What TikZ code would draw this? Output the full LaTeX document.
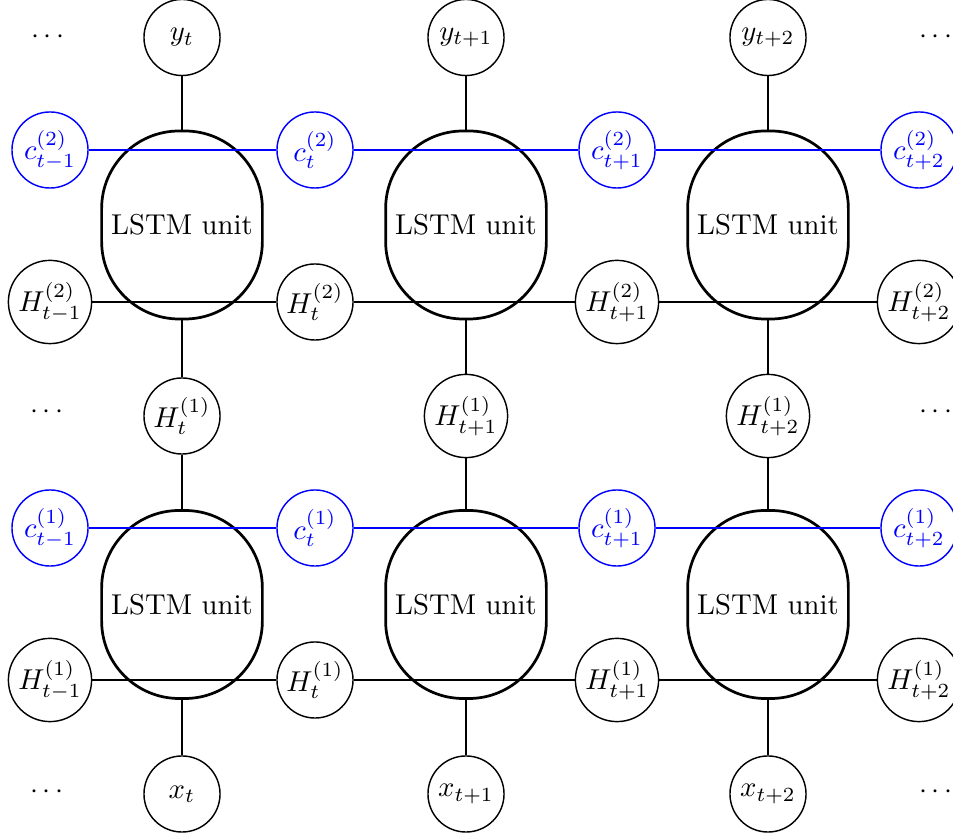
\documentclass[tikz,border=0pt]{standalone}
\begin{document}
\begin{tikzpicture}[x=0.3484pt,y=-0.3484pt,
 st/.style={circle,draw,line width=0.5pt,minimum size=26.5pt,inner sep=0pt},
 wide/.style={st,minimum size=29pt},
 cell/.style={st,draw=blue,text=blue},
 lstm/.style={draw,line width=0.95pt,rounded corners=27pt,minimum width=56pt,minimum height=65.5pt,inner sep=0pt},
 dts/.style={inner sep=0pt},
 link/.style={line width=0.5pt},
 clink/.style={link,blue}]
\useasboundingbox (0,0) rectangle (953,837);
% top outputs
\node[st] (y0) at (182,37.5) {$y_t$};
\node[st] (y1) at (466,37.5) {$y_{t+1}$};
\node[st] (y2) at (768,37.5) {$y_{t+2}$};
\node[dts] (d1) at (48,37) {$\cdots$};
\node[dts] (d2) at (936,37) {$\cdots$};
% layer 2 cell states
\node[cell] (c2a) at (50,150) {$c^{(2)}_{t-1}$};
\node[cell] (c2b) at (315,150) {$c^{(2)}_{t}$};
\node[cell] (c2c) at (617,150) {$c^{(2)}_{t+1}$};
\node[cell] (c2d) at (919,150) {$c^{(2)}_{t+2}$};
% layer 2 units
\node[lstm] (L2a) at (182,225) {LSTM unit};
\node[lstm] (L2b) at (466,225) {LSTM unit};
\node[lstm] (L2c) at (768,225) {LSTM unit};
% layer 2 hidden
\node[wide] (h2a) at (50,302) {$H^{(2)}_{t-1}$};
\node[st] (h2b) at (315,302) {$H^{(2)}_{t}$};
\node[wide] (h2c) at (617,302) {$H^{(2)}_{t+1}$};
\node[wide] (h2d) at (919,302) {$H^{(2)}_{t+2}$};
% middle
\node[st] (m0) at (182,416) {$H^{(1)}_{t}$};
\node[wide] (m1) at (466,416) {$H^{(1)}_{t+1}$};
\node[wide] (m2) at (768,416) {$H^{(1)}_{t+2}$};
\node[dts] (d3) at (47,412) {$\cdots$};
\node[dts] (d4) at (936,412) {$\cdots$};
% layer 1 cell states
\node[cell] (c1a) at (50,528) {$c^{(1)}_{t-1}$};
\node[cell] (c1b) at (315,528) {$c^{(1)}_{t}$};
\node[cell] (c1c) at (617,528) {$c^{(1)}_{t+1}$};
\node[cell] (c1d) at (919,528) {$c^{(1)}_{t+2}$};
% layer 1 units
\node[lstm] (L1a) at (182,604.5) {LSTM unit};
\node[lstm] (L1b) at (466,604.5) {LSTM unit};
\node[lstm] (L1c) at (768,604.5) {LSTM unit};
% layer 1 hidden
\node[wide] (h1a) at (50,680) {$H^{(1)}_{t-1}$};
\node[st] (h1b) at (315,680) {$H^{(1)}_{t}$};
\node[wide] (h1c) at (617,680) {$H^{(1)}_{t+1}$};
\node[wide] (h1d) at (919,680) {$H^{(1)}_{t+2}$};
% inputs
\node[st] (x0) at (182,794) {$x_t$};
\node[st] (x1) at (466,794) {$x_{t+1}$};
\node[st] (x2) at (768,794) {$x_{t+2}$};
\node[dts] (d5) at (47,792) {$\cdots$};
\node[dts] (d6) at (936,792) {$\cdots$};
% horizontal connectors
\draw[clink] (c2a) -- (c2b);
\draw[clink] (c2b) -- (c2c);
\draw[clink] (c2c) -- (c2d);
\draw[clink] (c1a) -- (c1b);
\draw[clink] (c1b) -- (c1c);
\draw[clink] (c1c) -- (c1d);
\draw[link] (h2a) -- (h2b);
\draw[link] (h2b) -- (h2c);
\draw[link] (h2c) -- (h2d);
\draw[link] (h1a) -- (h1b);
\draw[link] (h1b) -- (h1c);
\draw[link] (h1c) -- (h1d);
% vertical connectors
\draw[link] (y0) -- (L2a);
\draw[link] (y1) -- (L2b);
\draw[link] (y2) -- (L2c);
\draw[link] (L2a) -- (m0);
\draw[link] (L2b) -- (m1);
\draw[link] (L2c) -- (m2);
\draw[link] (m0) -- (L1a);
\draw[link] (m1) -- (L1b);
\draw[link] (m2) -- (L1c);
\draw[link] (L1a) -- (x0);
\draw[link] (L1b) -- (x1);
\draw[link] (L1c) -- (x2);
\end{tikzpicture}
\end{document}
